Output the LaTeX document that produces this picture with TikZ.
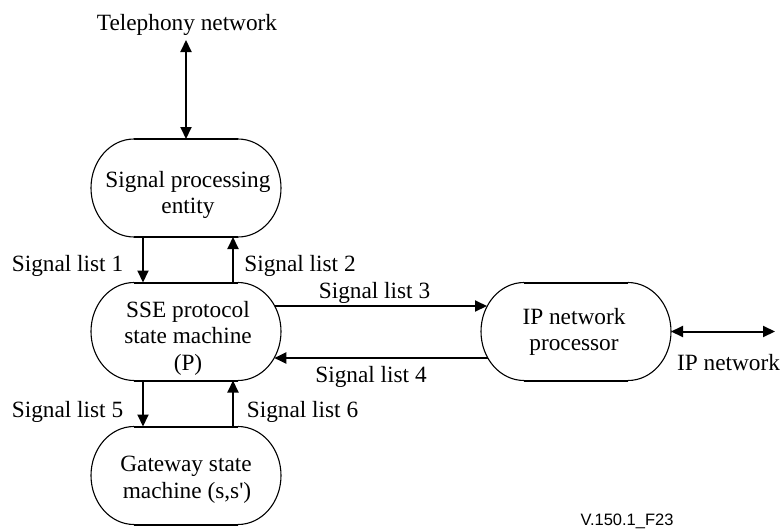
\documentclass[tikz,border=0pt]{standalone}
\usepackage{fontspec}
\setmainfont{Liberation Serif}[Ligatures=TeXOff]
\newfontfamily\figsans{Liberation Sans}
\usetikzlibrary{arrows.meta,calc}

\tikzset{
  box/.style={rectangle, minimum width=190pt, minimum height=98pt, inner sep=0pt, outer sep=0pt},
  txt/.style={anchor=base, inner sep=0pt, font=\fontsize{23.3}{27}\selectfont},
  rim/.style={line width=2pt},
  side/.style={line width=1.1pt},
  tip/.tip={Triangle[length=12pt,width=11pt]},
  link/.style={line width=2pt, -tip},
  duplex/.style={line width=2pt, tip-tip},
}

% capsule outline: thick straight top/bottom, thin elliptic ends
\newcommand{\capsule}[1]{%
  \draw[rim] ($(#1.north)+(-52,0)$) -- ($(#1.north)+(52,0)$);
  \draw[rim] ($(#1.south)+(-52,0)$) -- ($(#1.south)+(52,0)$);
  \draw[side] ($(#1.north)+(-52,0)$) arc[start angle=90, end angle=270, x radius=43pt, y radius=49pt];
  \draw[side] ($(#1.north)+(52,0)$) arc[start angle=90, end angle=-90, x radius=43pt, y radius=49pt];
}

\begin{document}
\begin{tikzpicture}[x=1pt,y=-1pt]
\useasboundingbox (0,0) rectangle (784,530);

% entities
\node[box] (sp)  at (186,188)   {};
\node[box] (sse) at (186,331.5) {};
\node[box] (gw)  at (186,475.5) {};
\node[box] (ip)  at (576,331.5) {};
\capsule{sp}
\capsule{sse}
\capsule{gw}
\capsule{ip}

% entity texts
\node[txt] (sp1)  at (188,187.5) {Signal processing};
\node[txt] (sp2)  at (188,213)   {entity};
\node[txt] (sse1) at (188,317)   {SSE protocol};
\node[txt] (sse2) at (188,343.5) {state machine};
\node[txt] (sse3) at (188,370)   {(P)};
\node[txt] (gw1)  at (186,471)   {Gateway state};
\node[txt] (gw2)  at (187,498)   {machine (s,s')};
\node[txt] (ip1)  at (574,324.5) {IP network};
\node[txt] (ip2)  at (574,350)   {processor};

% external ends
\node[txt] (telnet) at (187,30) {Telephony network};
\coordinate (tel) at (186,40);
\node[txt] (ipnet) at (728.5,370) {IP network};
\coordinate (ipend) at (775,331.5);

% connectors
\draw[duplex] (tel) -- (sp.north);
\draw[link] ($(sp.south)+(-43,0)$) -- ($(sse.north)+(-43,0)$);
\draw[link] ($(sse.north)+(47,0)$) -- ($(sp.south)+(47,0)$);
\draw[link] ($(sse.south)+(-43,0)$) -- ($(gw.north)+(-43,0)$);
\draw[link] ($(gw.north)+(47,0)$) -- ($(sse.south)+(47,0)$);
\draw[link] ($(sse.east)+(-6,-25.5)$) -- ($(ip.west)+(6,-25.5)$);
\draw[link] ($(ip.west)+(6.7,26.5)$) -- ($(sse.east)+(-6.7,26.5)$);
\draw[duplex] (ip.east) -- (ipend);

% connector labels
\node[txt] (l1) at (67.5,271)  {Signal list 1};
\node[txt] (l2) at (300,271)   {Signal list 2};
\node[txt] (l3) at (374.5,298) {Signal list 3};
\node[txt] (l4) at (371,382)   {Signal list 4};
\node[txt] (l5) at (67.5,417)  {Signal list 5};
\node[txt] (l6) at (302.5,417) {Signal list 6};

% figure tag
\node[anchor=base, inner sep=0pt, font=\figsans\fontsize{16.5}{18}\selectfont] (tag) at (627,525) {V.150.1\_F23};
\end{tikzpicture}
\end{document}
